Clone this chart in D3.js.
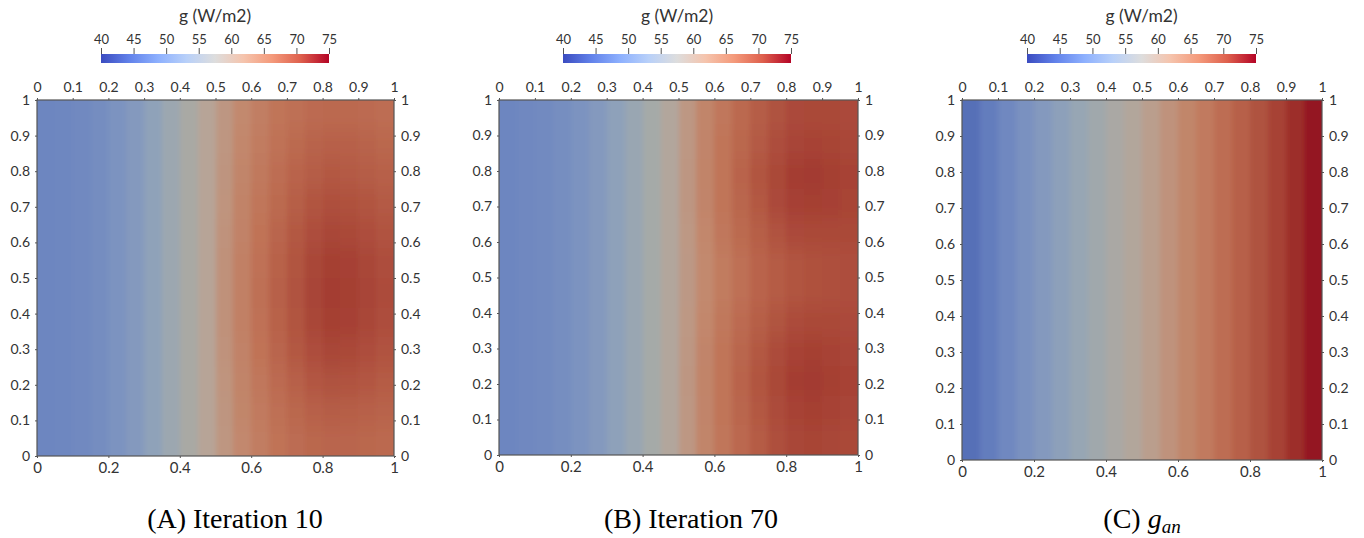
<!DOCTYPE html>
<html>
<head>
<meta charset="utf-8">
<script src="https://cdn.jsdelivr.net/npm/d3@7"></script>
<style>
  body { margin: 0; background: #fff; }
  svg text { font-family: Lato, "DejaVu Sans", sans-serif; fill: #333; }
  .tick line { stroke: #555; }
  .caption { font-family: "Liberation Serif", "Times New Roman", serif; font-size: 28px; fill: #000; }
</style>
</head>
<body>
<svg width="1364" height="538"></svg>
<script>
// DATA

let legendTitle = "g (W/m2)";
let legendTicks = [40, 45, 50, 55, 60, 65, 70, 75];
let topTicks = [0, 0.1, 0.2, 0.3, 0.4, 0.5, 0.6, 0.7, 0.8, 0.9, 1];
let bottomTicks = [0, 0.2, 0.4, 0.6, 0.8, 1];
let sideTicks = [0, 0.1, 0.2, 0.3, 0.4, 0.5, 0.6, 0.7, 0.8, 0.9, 1];

// g values per cell, rows from top (y=1) to bottom (y=0), 20 columns from x=0 to x=1
let gridA = [
  [44, 44.2, 44.6, 45.4, 46.5, 48, 50, 52.3, 54.8, 57.5, 59.5, 61.5, 63.0, 64.3, 65.2, 65.8, 66.0, 66.0, 65.8, 65.5],
  [44, 44.2, 44.6, 45.4, 46.5, 48, 50, 52.3, 54.8, 57.5, 59.6, 61.8, 63.4, 64.8, 65.9, 66.7, 67.0, 67.0, 66.7, 66.3],
  [44, 44.2, 44.6, 45.4, 46.5, 48, 50, 52.3, 54.8, 57.5, 59.8, 62.0, 63.8, 65.4, 66.6, 67.6, 68.1, 68.0, 67.6, 67.1],
  [44, 44.2, 44.6, 45.4, 46.5, 48, 50, 52.3, 54.8, 57.5, 59.9, 62.3, 64.2, 65.9, 67.4, 68.5, 69.1, 69.0, 68.5, 68.0],
  [44, 44.2, 44.6, 45.4, 46.5, 48, 50, 52.3, 54.8, 57.5, 60.1, 62.5, 64.6, 66.5, 68.1, 69.4, 70.2, 70.0, 69.4, 68.8],
  [44, 44.2, 44.6, 45.4, 46.5, 48, 50, 52.3, 54.8, 57.5, 60.2, 62.7, 64.9, 66.9, 68.6, 70.1, 70.9, 70.8, 70.1, 69.4],
  [44, 44.2, 44.6, 45.4, 46.5, 48, 50, 52.3, 54.8, 57.5, 60.2, 62.8, 65.0, 67.0, 68.8, 70.3, 71.2, 71.0, 70.3, 69.6],
  [44, 44.2, 44.6, 45.4, 46.5, 48, 50, 52.3, 54.8, 57.5, 60.2, 62.7, 64.9, 66.9, 68.6, 70.1, 70.9, 70.8, 70.1, 69.4],
  [44, 44.2, 44.6, 45.4, 46.5, 48, 50, 52.3, 54.8, 57.5, 60.1, 62.5, 64.6, 66.5, 68.1, 69.4, 70.2, 70.0, 69.4, 68.8],
  [44, 44.2, 44.6, 45.4, 46.5, 48, 50, 52.3, 54.8, 57.5, 59.9, 62.2, 64.1, 65.8, 67.2, 68.3, 68.9, 68.8, 68.3, 67.8],
  [44, 44.2, 44.6, 45.4, 46.5, 48, 50, 52.3, 54.8, 57.5, 59.7, 61.9, 63.6, 65.1, 66.3, 67.2, 67.6, 67.5, 67.2, 66.7],
  [44, 44.2, 44.6, 45.4, 46.5, 48, 50, 52.3, 54.8, 57.5, 59.6, 61.6, 63.2, 64.6, 65.6, 66.3, 66.5, 66.5, 66.3, 66.0]
];

let gridB = [
  [44, 44.3, 44.8, 45.5, 46.5, 48, 49.8, 51.8, 54, 56.5, 59.4, 62.0, 64.1, 66.0, 67.6, 68.9, 69.7, 70.0, 69.9, 69.8],
  [44, 44.3, 44.8, 45.5, 46.5, 48, 49.8, 51.8, 54, 56.5, 59.4, 62.1, 64.3, 66.3, 68.0, 69.4, 70.3, 70.6, 70.4, 70.1],
  [44, 44.3, 44.8, 45.5, 46.5, 48, 49.8, 51.8, 54, 56.5, 59.5, 62.2, 64.5, 66.6, 68.5, 70.0, 71.1, 71.4, 71.0, 70.6],
  [44, 44.3, 44.8, 45.5, 46.5, 48, 49.8, 51.8, 54, 56.5, 59.5, 62.1, 64.4, 66.4, 68.2, 69.7, 70.7, 71.0, 70.7, 70.4],
  [44, 44.3, 44.8, 45.5, 46.5, 48, 49.8, 51.8, 54, 56.5, 59.3, 61.8, 64.0, 65.9, 67.5, 68.8, 69.7, 70.0, 70.0, 69.9],
  [44, 44.3, 44.8, 45.5, 46.5, 48, 49.8, 51.8, 54, 56.5, 59.2, 61.5, 63.5, 65.2, 66.6, 67.8, 68.6, 69.0, 69.2, 69.3],
  [44, 44.3, 44.8, 45.5, 46.5, 48, 49.8, 51.8, 54, 56.5, 59.2, 61.5, 63.5, 65.2, 66.6, 67.8, 68.6, 69.0, 69.2, 69.3],
  [44, 44.3, 44.8, 45.5, 46.5, 48, 49.8, 51.8, 54, 56.5, 59.3, 61.8, 63.9, 65.8, 67.4, 68.7, 69.6, 69.9, 69.9, 69.8],
  [44, 44.3, 44.8, 45.5, 46.5, 48, 49.8, 51.8, 54, 56.5, 59.4, 62.1, 64.3, 66.4, 68.1, 69.6, 70.6, 70.9, 70.6, 70.3],
  [44, 44.3, 44.8, 45.5, 46.5, 48, 49.8, 51.8, 54, 56.5, 59.5, 62.2, 64.5, 66.6, 68.5, 70.0, 71.1, 71.4, 71.0, 70.6],
  [44, 44.3, 44.8, 45.5, 46.5, 48, 49.8, 51.8, 54, 56.5, 59.4, 62.1, 64.3, 66.4, 68.1, 69.6, 70.6, 70.9, 70.6, 70.3],
  [44, 44.3, 44.8, 45.5, 46.5, 48, 49.8, 51.8, 54, 56.5, 59.4, 62.0, 64.2, 66.1, 67.8, 69.2, 70.1, 70.4, 70.2, 70.0]
];

// analytic field only varies along x
let rowC = [40.9, 42.6, 44.4, 46.1, 47.9, 49.6, 51.4, 53.1, 54.9, 56.6,
            58.4, 60.1, 61.9, 63.6, 65.4, 67.1, 68.9, 70.6, 72.4, 74.1];
let gridC = [rowC];

let captions = ["(A) Iteration 10", "(B) Iteration 70", "(C) "];

// STYLE

// cool to warm map used by the colour bar
let legendStops = ["#3b4cc0", "#6282ea", "#8db0fe", "#b8d0f9", "#dddddd", "#f5c4ad", "#f49a7b", "#de604d", "#b40426"];
// the same map as it looks on the lit surface
let surfaceDomain = [40, 43.5, 47, 50.5, 54, 57.5, 61, 64.5, 68, 71.5, 75];
let surfaceColors = ["#4f68b4", "#6a84c0", "#7f95c0", "#92a4b8", "#a5aaa8", "#b7a497", "#c28c72", "#c07458", "#b45a44", "#a23a30", "#8f0e1e"];

let panels = [
  {grid: gridA, x0: 37, x1: 394, y0: 100, y1: 456, cbX: 101, cbW: 228, cx: 235},
  {grid: gridB, x0: 499, x1: 858, y0: 100, y1: 455, cbX: 563, cbW: 228, cx: 691},
  {grid: gridC, x0: 962, x1: 1322, y0: 100, y1: 460, cbX: 1027, cbW: 229, cx: 1142}
];

let svg = d3.select("svg");

let surfaceColor = d3.scaleLinear()
  .domain(surfaceDomain)
  .range(surfaceColors)
  .clamp(true);

let defs = svg.append("defs");
let grad = defs.append("linearGradient").attr("id", "coolwarm");
grad.selectAll("stop")
  .data(legendStops)
  .enter()
  .append("stop")
  .attr("offset", (d, i) => (i / (legendStops.length - 1) * 100) + "%")
  .attr("stop-color", d => d);

// soft shading like the smooth surface render
defs.append("filter")
  .attr("id", "soft")
  .attr("x", "-10%").attr("y", "-10%").attr("width", "120%").attr("height", "120%")
  .append("feGaussianBlur")
  .attr("stdDeviation", "2.5 9");

panels.forEach(function(p, pi){
  let g = svg.append("g");
  let nRows = p.grid.length, nCols = p.grid[0].length;

  let colBand = d3.scaleBand().domain(d3.range(nCols)).range([p.x0, p.x1]);
  let rowBand = d3.scaleBand().domain(d3.range(nRows)).range([p.y0, p.y1]);

  let cells = [];
  p.grid.forEach((row, r) => row.forEach((v, c) => cells.push({r: r, c: c, v: v})));

  defs.append("clipPath").attr("id", "clip" + pi)
    .append("rect")
    .attr("x", p.x0).attr("y", p.y0)
    .attr("width", p.x1 - p.x0).attr("height", p.y1 - p.y0);

  // edge cells are stretched past the frame so the blur does not fade the border
  let pad = 30;
  let padBefore = (i) => i == 0 ? pad : 0;
  let padAfter = (i, n) => i == n - 1 ? pad : 0;

  g.append("g")
    .attr("clip-path", `url(#clip${pi})`)
    .append("g")
    .attr("filter", "url(#soft)")
    .selectAll(".cell")
    .data(cells)
    .enter()
    .append("rect")
    .attr("class", "cell")
    .attr("x", d => colBand(d.c) - padBefore(d.c))
    .attr("y", d => rowBand(d.r) - padBefore(d.r))
    .attr("width", d => colBand.bandwidth() + 0.5 + padBefore(d.c) + padAfter(d.c, nCols))
    .attr("height", d => rowBand.bandwidth() + 0.5 + padBefore(d.r) + padAfter(d.r, nRows))
    .attr("fill", d => surfaceColor(d.v))
    .attr("shape-rendering", "crispEdges");

  g.append("rect")
    .attr("x", p.x0).attr("y", p.y0)
    .attr("width", p.x1 - p.x0).attr("height", p.y1 - p.y0)
    .attr("fill", "none")
    .attr("stroke", "#555")
    .attr("stroke-width", 1.2);

  // axes on all four sides
  let x = d3.scaleLinear().domain([0, 1]).range([p.x0, p.x1]);
  let y = d3.scaleLinear().domain([0, 1]).range([p.y1, p.y0]);
  let fmt = d3.format("~g");

  let top = g.append("g").attr("transform", `translate(0,${p.y0})`)
    .call(d3.axisTop(x).tickValues(topTicks).tickFormat(fmt).tickSize(2).tickPadding(6));
  let bottom = g.append("g").attr("transform", `translate(0,${p.y1})`)
    .call(d3.axisBottom(x).tickValues(bottomTicks).tickFormat(fmt).tickSize(2).tickPadding(4));
  let left = g.append("g").attr("transform", `translate(${p.x0},0)`)
    .call(d3.axisLeft(y).tickValues(sideTicks).tickFormat(fmt).tickSize(2).tickPadding(5));
  let right = g.append("g").attr("transform", `translate(${p.x1},0)`)
    .call(d3.axisRight(y).tickValues(sideTicks).tickFormat(fmt).tickSize(2).tickPadding(5));

  [top, bottom, left, right].forEach(a => {
    a.select(".domain").remove();
    a.selectAll("text").style("font-size", "14px").attr("fill", "#333");
  });
  bottom.selectAll("text").style("font-size", "15px");

  // colour bar
  let cb = d3.scaleLinear().domain([40, 75]).range([p.cbX, p.cbX + p.cbW]);
  g.append("rect")
    .attr("x", p.cbX).attr("y", 54)
    .attr("width", p.cbW).attr("height", 9)
    .attr("fill", "url(#coolwarm)");
  let cbAxis = g.append("g").attr("transform", "translate(0,54)")
    .call(d3.axisTop(cb).tickValues(legendTicks).tickSize(6).tickPadding(4));
  cbAxis.select(".domain").remove();
  cbAxis.selectAll("line").attr("stroke", "#333");
  cbAxis.selectAll("text").style("font-size", "13px").attr("fill", "#333");

  g.append("text")
    .attr("x", p.cbX + p.cbW / 2)
    .attr("y", 22)
    .attr("text-anchor", "middle")
    .style("font-size", "17.5px")
    .text(legendTitle);

  // caption
  let cap = g.append("text")
    .attr("class", "caption")
    .attr("x", p.cx)
    .attr("y", 528)
    .attr("text-anchor", "middle")
    .text(captions[pi]);
  if (pi == 2){
    cap.append("tspan").style("font-style", "italic").text("g");
    cap.append("tspan").style("font-style", "italic").style("font-size", "19px").attr("dy", 5).text("an");
  }
});
</script>
</body>
</html>
